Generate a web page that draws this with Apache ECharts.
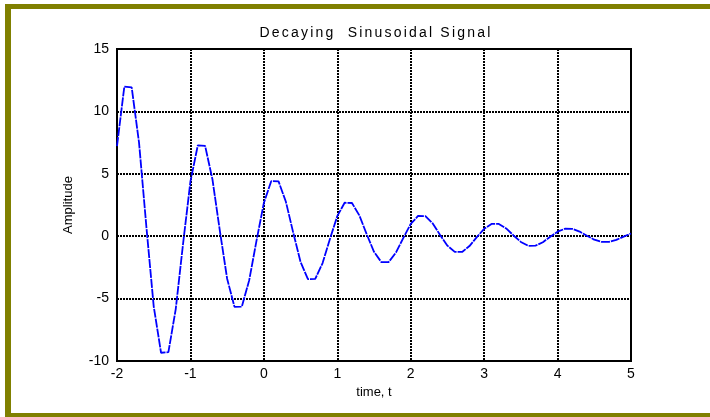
<!DOCTYPE html>
<html>
<head>
<meta charset="utf-8">
<script src="https://cdn.jsdelivr.net/npm/echarts/dist/echarts.min.js"></script>
<style>
  html, body { margin: 0; padding: 0; background: #ffffff; }
  #wrap { position: relative; width: 710px; height: 417px; }
  #chart { position: absolute; left: 0; top: 0; width: 710px; height: 417px; }
  #title {
    position: absolute; left: 0; top: 24px; width: 752px;
    text-align: center; white-space: pre;
    font-family: "Liberation Sans", Arial, sans-serif; font-size: 14px;
    letter-spacing: 2.2px; color: #000;
  }
</style>
</head>
<body>
<div id="wrap">
  <div id="chart"></div>
  <div id="title">Decaying  Sinusoidal Signal</div>
</div>
<script>
// Sample times (s) and the measured amplitude at each sample
const times = [
  -2.0, -1.9, -1.8, -1.7, -1.6, -1.5, -1.4, -1.3, -1.2, -1.1,
  -1.0, -0.9, -0.8, -0.7, -0.6, -0.5, -0.4, -0.3, -0.2, -0.1,
   0.0,  0.1,  0.2,  0.3,  0.4,  0.5,  0.6,  0.7,  0.8,  0.9,
   1.0,  1.1,  1.2,  1.3,  1.4,  1.5,  1.6,  1.7,  1.8,  1.9,
   2.0,  2.1,  2.2,  2.3,  2.4,  2.5,  2.6,  2.7,  2.8,  2.9,
   3.0,  3.1,  3.2,  3.3,  3.4,  3.5,  3.6,  3.7,  3.8,  3.9,
   4.0,  4.1,  4.2,  4.3,  4.4,  4.5,  4.6,  4.7,  4.8,  4.9,
   5.0
];
const amplitude = [
   7.22, 11.99, 11.93,  7.50,  0.76, -5.62, -9.34, -9.29, -5.84, -0.59,
   4.38,  7.27,  7.24,  4.55,  0.46, -3.41, -5.66, -5.64, -3.54, -0.36,
   2.66,  4.41,  4.39,  2.76,  0.28, -2.07, -3.44, -3.42, -2.15, -0.22,
   1.61,  2.68,  2.66,  1.67,  0.17, -1.25, -2.08, -2.07, -1.30, -0.13,
   0.98,  1.62,  1.61,  1.02,  0.10, -0.76, -1.26, -1.26, -0.79, -0.08,
   0.59,  0.98,  0.98,  0.62,  0.06, -0.46, -0.77, -0.76, -0.48, -0.05,
   0.36,  0.60,  0.59,  0.37,  0.04, -0.28, -0.46, -0.46, -0.29, -0.03,
   0.22
];
const xTicks = { min: -2, max: 5, step: 1 };
const yTicks = { min: -10, max: 15, step: 5 };

const points = times.map((t, i) => [t, amplitude[i]]);

const olive = '#808000';
const font = '"Liberation Sans", Arial, sans-serif';
const gridDots = { color: '#000', width: 2, type: [2, 1] };

const chart = echarts.init(document.getElementById('chart'), null, { renderer: 'canvas' });
chart.setOption({
  animation: false,
  backgroundColor: '#ffffff',
  graphic: [
    { type: 'rect', shape: { x: 5, y: 4, width: 705, height: 5 }, style: { fill: olive }, silent: true },
    { type: 'rect', shape: { x: 5, y: 4, width: 6, height: 413 }, style: { fill: olive }, silent: true },
    { type: 'rect', shape: { x: 5, y: 413, width: 705, height: 4 }, style: { fill: olive }, silent: true }
  ],
  grid: {
    left: 117, right: 79, top: 49, bottom: 56,
    show: true, borderColor: '#000', borderWidth: 2, backgroundColor: 'transparent'
  },
  xAxis: {
    type: 'value',
    min: xTicks.min, max: xTicks.max, interval: xTicks.step,
    name: 'time, t', nameLocation: 'middle', nameGap: 24,
    nameTextStyle: { fontFamily: font, fontSize: 13, color: '#000' },
    axisLine: { show: true, onZero: false, lineStyle: { color: '#000', width: 2 } },
    axisTick: { show: false },
    axisLabel: { margin: 6, fontFamily: font, fontSize: 14, color: '#000' },
    splitLine: { show: true, lineStyle: gridDots }
  },
  yAxis: {
    type: 'value',
    min: yTicks.min, max: yTicks.max, interval: yTicks.step,
    name: 'Amplitude', nameLocation: 'middle', nameGap: 42, nameRotate: 90,
    nameTextStyle: { fontFamily: font, fontSize: 13, color: '#000' },
    axisLine: { show: true, onZero: false, lineStyle: { color: '#000', width: 2 } },
    axisTick: { show: false },
    axisLabel: { margin: 8, fontFamily: font, fontSize: 14, color: '#000' },
    splitLine: { show: true, lineStyle: gridDots }
  },
  series: [{
    type: 'line',
    data: points,
    showSymbol: false,
    smooth: false,
    lineStyle: { color: '#0000ff', width: 1.8, type: [9, 1] },
    z: 3
  }]
});
</script>
</body>
</html>
